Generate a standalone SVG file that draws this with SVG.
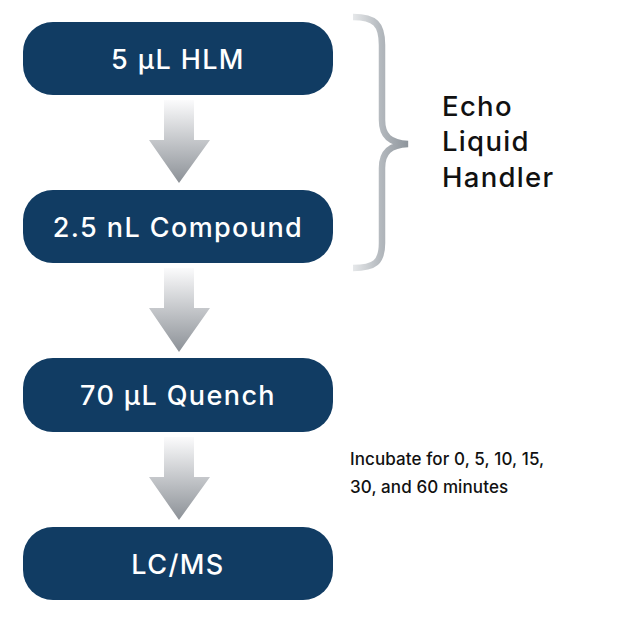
<svg xmlns="http://www.w3.org/2000/svg" width="618" height="620" viewBox="0 0 618 620">
<style>
.box{fill:#113c63}
.lbl{font-family:Inter,"Open Sans",sans-serif;font-weight:500;font-size:27px;fill:#ffffff;text-anchor:middle;letter-spacing:1.4px}
.side{font-family:Inter,"Open Sans",sans-serif;font-weight:500;font-size:27.5px;fill:#111111;letter-spacing:1.3px}
.note{font-family:Inter,"Open Sans",sans-serif;font-weight:500;font-size:17px;fill:#111111;letter-spacing:0.1px}
.arrow{fill:url(#ag)}
</style>
<defs>
<linearGradient id="ag" x1="0" y1="0" x2="0" y2="1">
<stop offset="0" stop-color="#fbfbfc"/>
<stop offset="1" stop-color="#8c9197"/>
</linearGradient>
<linearGradient id="bg" x1="0" y1="0" x2="1" y2="0">
<stop offset="0" stop-color="#e6e8ea"/>
<stop offset="0.5" stop-color="#b4b9be"/>
<stop offset="1" stop-color="#8e959c"/>
</linearGradient>
</defs>
<g id="connectors">
<path class="arrow" d="M164,100 H194 V140 H210 L179,183 L149,140 H164 Z"/>
<path class="arrow" d="M164,268 H194 V308 H210 L179,352 L149,308 H164 Z"/>
<path class="arrow" d="M164,437 H194 V477 H210 L179,520 L149,477 H164 Z"/>
</g>
<g id="node1"><rect class="box" x="23" y="22" width="310" height="73" rx="30"/><text class="lbl" x="178" y="69">5 µL HLM</text></g>
<g id="node2"><rect class="box" x="23" y="190" width="310" height="73" rx="30"/><text class="lbl" x="178" y="237">2.5 nL Compound</text></g>
<g id="node3"><rect class="box" x="23" y="358" width="310" height="74" rx="30"/><text class="lbl" x="178" y="405">70 µL Quench</text></g>
<g id="node4"><rect class="box" x="23" y="527" width="310" height="73" rx="30"/><text class="lbl" x="178" y="574">LC/MS</text></g>
<g id="brace">
<path d="M353,17 C375,17 382,24 382,45 V120 C382,136 390,143 408,144 C390,145 382,152 382,168 V243 C382,262 375,268 353,268" fill="none" stroke="url(#bg)" stroke-width="6.5"/>
</g>
<g id="brace-label">
<text class="side" x="442" y="116">Echo</text>
<text class="side" x="442" y="151">Liquid</text>
<text class="side" x="442" y="187">Handler</text>
</g>
<g id="note">
<text class="note" x="350" y="465">Incubate for 0, 5, 10, 15,</text>
<text class="note" x="350" y="493">30, and 60 minutes</text>
</g>
</svg>
